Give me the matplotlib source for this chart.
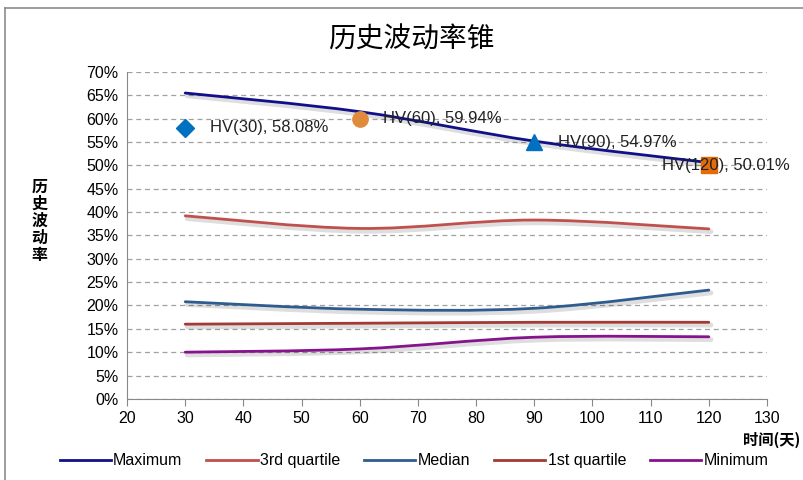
import numpy as np
import matplotlib
matplotlib.use("Agg")
import matplotlib.pyplot as plt
from matplotlib.path import Path
from matplotlib.patches import PathPatch
from matplotlib.lines import Line2D
from matplotlib.ticker import MultipleLocator, FuncFormatter
import matplotlib.patheffects as pe

plt.rcParams['font.family'] = ['Liberation Sans', 'Noto Sans CJK SC', 'DejaVu Sans']

# data
days = [30, 60, 90, 120]
series_names = ['Maximum', '3rd quartile', 'Median', '1st quartile', 'Minimum']
maximum = [65.5, 61.5, 55.2, 50.6]
q3 = [39.2, 36.5, 38.3, 36.4]
median = [20.8, 19.2, 19.4, 23.3]
q1 = [16.0, 16.2, 16.4, 16.4]
minimum = [10.0, 10.7, 13.2, 13.3]
series_colors = ['#101088', '#c0504d', '#2f5c8e', '#a33a36', '#86138c']

hv_days = [30, 60, 90, 120]
hv_values = [58.08, 59.94, 54.97, 50.01]
hv_markers = ['D', 'o', '^', 's']
hv_colors = ['#0070c0', '#e08a3c', '#0070c0', '#e36c09']


def smooth_path(xs, ys):
    # Excel-like smoothed line as cubic Bezier segments
    pts = np.column_stack([xs, ys]).astype(float)
    n = len(pts)
    verts = [pts[0]]
    codes = [Path.MOVETO]
    for i in range(n - 1):
        p0 = pts[i - 1] if i > 0 else pts[i]
        p1 = pts[i]
        p2 = pts[i + 1]
        p3 = pts[i + 2] if i + 2 < n else pts[i + 1]
        c1 = p1 + (p2 - p0) / 6.0
        c2 = p2 - (p3 - p1) / 6.0
        verts += [c1, c2, p2]
        codes += [Path.CURVE4] * 3
    return Path(verts, codes)


fig = plt.figure(figsize=(8.04, 4.8), dpi=100)
ax = fig.add_axes([0.158, 0.169, 0.796, 0.681])

shadow = [pe.SimpleLineShadow(offset=(1.5, -2), shadow_color='black', alpha=0.13, linewidth=3.5),
          pe.Normal()]

all_series = [maximum, q3, median, q1, minimum]
for vals, col in zip(all_series, series_colors):
    patch = PathPatch(smooth_path(days, vals), facecolor='none', edgecolor=col,
                      linewidth=2, zorder=4, capstyle='round')
    patch.set_path_effects(shadow)
    ax.add_patch(patch)

for d, v, m, c in zip(hv_days, hv_values, hv_markers, hv_colors):
    ax.plot([d], [v], marker=m, color=c, markersize=11 if m != 'D' else 9,
            linestyle='none', zorder=5)

label_offsets = [(18, 0), (17, 0), (17, 0), (-34, 0)]
for d, v, off in zip(hv_days, hv_values, label_offsets):
    ax.annotate('HV(%d), %.2f%%' % (d, v), xy=(d, v), xytext=off,
                textcoords='offset points', ha='left', va='center',
                fontsize=12, color='#222222', zorder=6)

ax.set_xlim(20, 130)
ax.set_ylim(0, 70)
ax.xaxis.set_major_locator(MultipleLocator(10))
ax.yaxis.set_major_locator(MultipleLocator(5))
ax.yaxis.set_major_formatter(FuncFormatter(lambda v, p: '%d%%' % round(v)))
ax.grid(axis='y', linestyle=(0, (4, 3)), color='#a0a0a0', linewidth=0.9)
ax.set_axisbelow(True)
for s in ['top', 'right']:
    ax.spines[s].set_visible(False)
for s in ['left', 'bottom']:
    ax.spines[s].set_color('#888888')
ax.tick_params(axis='x', length=5, color='#888888', labelsize=11.5, pad=4)
ax.tick_params(axis='y', length=0, labelsize=11.5, pad=6)

fig.text(0.512, 0.918, '历史波动率锥', ha='center', va='center', fontsize=20,
         family=['Noto Sans CJK SC', 'DejaVu Sans'])
fig.text(0.049, 0.54, '历\n史\n波\n动\n率', ha='center', va='center', fontsize=11.5,
         fontweight='bold', linespacing=1.1, family=['Noto Sans CJK SC', 'DejaVu Sans'])
fig.text(0.995, 0.083, '时间(天)', ha='right', va='center', fontsize=11,
         fontweight='bold', family=['Noto Sans CJK SC', 'DejaVu Sans'])

handles = [Line2D([], [], color=c, linewidth=2) for c in series_colors]
fig.legend(handles, series_names, loc='center', bbox_to_anchor=(0.515, 0.04),
           ncol=5, frameon=False, fontsize=11.5, handlelength=3.2,
           handletextpad=0.15, columnspacing=1.5)

# outer chart border
fig.add_artist(Line2D([5 / 804, 5 / 804], [0, 1 - 8 / 480], color='#8c8c8c',
                      linewidth=1.2, transform=fig.transFigure))
fig.add_artist(Line2D([5 / 804, 1], [1 - 8 / 480, 1 - 8 / 480], color='#8c8c8c',
                      linewidth=1.2, transform=fig.transFigure))

fig.savefig('out.png', dpi=100)
